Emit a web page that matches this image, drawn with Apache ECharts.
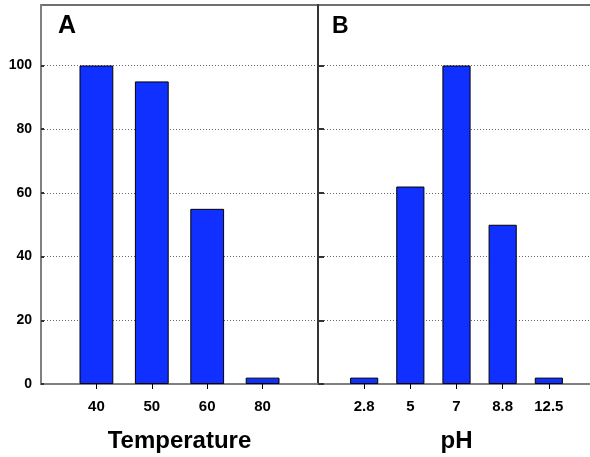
<!DOCTYPE html>
<html>
<head>
<meta charset="utf-8">
<script src="https://cdn.jsdelivr.net/npm/echarts@6/dist/echarts.min.js"></script>
<style>
html,body{margin:0;padding:0;background:#fff;}
#chart{width:590px;height:457px;}
</style>
</head>
<body>
<div id="chart"></div>
<script>
// Data
const tempCategories = ['40', '50', '60', '80'];
const tempValues = [100, 95, 55, 2];
const phCategories = ['2.8', '5', '7', '8.8', '12.5'];
const phValues = [2, 62, 100, 50, 2];
const yTicks = [0, 20, 40, 60, 80, 100];
const panelLabels = ['A', 'B'];
const axisTitles = ['Temperature', 'pH'];

const FONT = 'Liberation Sans, Arial, Helvetica, sans-serif';
const BAR_COLOR = '#1030ff';

function pad(arr, fill) { return [fill].concat(arr, [fill]); }

const chart = echarts.init(document.getElementById('chart'), null, {renderer: 'canvas'});

function xAxisFor(gridIndex, cats, title) {
  return {
    type: 'category',
    gridIndex: gridIndex,
    data: pad(cats, ''),
    boundaryGap: false,
    axisLine: {lineStyle: {color: '#808080', width: 2}},
    axisTick: {
      show: true, inside: false, length: 5,
      interval: function (i, v) { return v !== ''; },
      lineStyle: {color: '#000', width: 1}
    },
    axisLabel: {
      interval: 0, margin: 15, color: '#000', fontWeight: 'bold', fontSize: 15, fontFamily: FONT
    },
    splitLine: {show: false},
    name: title,
    nameLocation: 'middle',
    nameGap: 45,
    nameTextStyle: {color: '#000', fontWeight: 'bold', fontSize: 24, fontFamily: FONT}
  };
}

function yAxisFor(gridIndex, showLabels, lineColor, tickLen) {
  return {
    type: 'value',
    gridIndex: gridIndex,
    min: 0, max: 119, interval: 20,
    axisLine: {show: true, lineStyle: {color: lineColor, width: 2}},
    axisTick: {show: true, inside: true, length: tickLen, customValues: yTicks, lineStyle: {color: lineColor === '#808080' ? '#333' : lineColor, width: 2}},
    axisLabel: {
      show: showLabels, customValues: yTicks, margin: 9,
      color: '#000', fontWeight: 'bold', fontSize: 14, fontFamily: FONT
    },
    splitLine: {show: true, lineStyle: {color: '#666', type: [1, 2], width: 1}}
  };
}

const option = {
  backgroundColor: '#fff',
  animation: false,
  title: [
    {text: panelLabels[0], left: 53, top: 9, textStyle: {fontSize: 25, fontWeight: 'bold', color: '#000', fontFamily: FONT}},
    {text: panelLabels[1], left: 327, top: 10, textStyle: {fontSize: 23, fontWeight: 'bold', color: '#000', fontFamily: FONT}}
  ],
  grid: [
    {left: 41, top: 5, width: 277, height: 379, outerBoundsMode: 'none', show: true, borderColor: '#707070', borderWidth: 2, backgroundColor: 'transparent'},
    {left: 318, top: 5, width: 277, height: 379, outerBoundsMode: 'none', show: true, borderColor: '#707070', borderWidth: 2, backgroundColor: 'transparent'}
  ],
  xAxis: [
    xAxisFor(0, tempCategories, axisTitles[0]),
    xAxisFor(1, phCategories, axisTitles[1])
  ],
  yAxis: [
    yAxisFor(0, true, '#808080', 3),
    yAxisFor(1, false, '#333333', 6)
  ],
  series: [
    {
      type: 'bar', xAxisIndex: 0, yAxisIndex: 0,
      data: pad(tempValues, '-'),
      barWidth: '61%',
      itemStyle: {color: BAR_COLOR, borderColor: '#000', borderWidth: 1}
    },
    {
      type: 'bar', xAxisIndex: 1, yAxisIndex: 1,
      data: pad(phValues, '-'),
      barWidth: '61%',
      itemStyle: {color: BAR_COLOR, borderColor: '#000', borderWidth: 1}
    }
  ]
};
chart.setOption(option);
</script>
</body>
</html>
